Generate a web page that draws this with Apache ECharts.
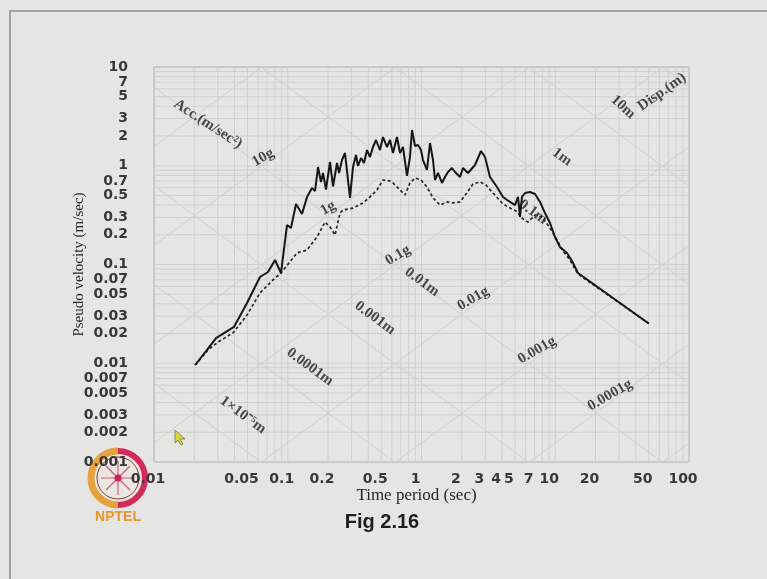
<!DOCTYPE html>
<html>
<head>
<meta charset="utf-8">
<script src="https://cdn.jsdelivr.net/npm/echarts@6/dist/echarts.min.js"></script>
<style>
  html, body { margin: 0; padding: 0; background: #e5e5e3; }
  #chart { width: 767px; height: 579px; }
</style>
</head>
<body>
<div id="chart"></div>
<script>
// Tripartite response spectrum: period (s) against pseudo velocity (m/s),
// with constant-acceleration and constant-displacement diagonals.

// Spectrum drawn with the solid line
const periodSolid = [0.0203, 0.0245, 0.0291, 0.0396, 0.0496, 0.062, 0.0712, 0.0803, 0.089, 0.0987,
  0.1057, 0.1153, 0.1278, 0.1393, 0.1518, 0.16, 0.1684, 0.1772, 0.1835, 0.1932,
  0.207, 0.218, 0.2335, 0.2417, 0.2544, 0.2679, 0.292, 0.3075, 0.3238, 0.3352,
  0.353, 0.3716, 0.3913, 0.4121, 0.4339, 0.4568, 0.4894, 0.5154, 0.5522, 0.5814,
  0.6121, 0.6558, 0.6906, 0.7271, 0.779, 0.8202, 0.8493, 0.8941, 0.9415, 0.9914,
  1.026, 1.099, 1.158, 1.219, 1.262, 1.328, 1.423, 1.498, 1.578, 1.69,
  1.78, 1.941, 2.043, 2.227, 2.512, 2.786, 2.985, 3.252, 3.668, 4.067,
  4.589, 5.003, 5.267, 5.451, 5.642, 5.941, 6.475, 7.059, 7.691, 8.384,
  9.136, 9.957, 10.85, 12.24, 13.57, 14.79, 50];
const velocitySolid = [0.0096, 0.0133, 0.018, 0.0233, 0.0407, 0.0747, 0.084, 0.111, 0.082, 0.251,
  0.234, 0.41, 0.325, 0.483, 0.595, 0.555, 0.971, 0.685, 0.845, 0.575,
  1.091, 0.617, 1.066, 0.845, 1.143, 1.346, 0.472, 0.971, 1.285, 0.994,
  1.198, 1.066, 1.443, 1.226, 1.548, 1.823, 1.443, 1.955, 1.548, 1.823,
  1.346, 1.955, 1.346, 1.548, 0.788, 1.226, 2.301, 1.585, 1.622, 1.443,
  1.143, 0.906, 1.7, 1.143, 0.717, 0.845, 0.669, 0.769, 0.864, 0.949,
  0.864, 0.769, 0.949, 0.845, 1.018, 1.411, 1.226, 0.769, 0.609, 0.483,
  0.43, 0.4, 0.483, 0.303, 0.483, 0.53, 0.542, 0.518, 0.43, 0.332,
  0.263, 0.19, 0.15, 0.131, 0.104, 0.082, 0.0253];

// Spectrum drawn with the dashed line
const periodDashed = [0.0203, 0.0253, 0.0301, 0.039, 0.0496, 0.062, 0.0776, 0.089, 0.1173, 0.1393,
  0.1655, 0.1899, 0.207, 0.2256, 0.2459, 0.2588, 0.3075, 0.3652, 0.4121, 0.4648,
  0.5154, 0.5814, 0.6121, 0.6906, 0.7527, 0.8202, 0.8941, 0.9914, 1.099, 1.219,
  1.375, 1.551, 1.72, 1.941, 2.151, 2.427, 2.738, 3.035, 3.424, 3.998,
  4.434, 5.089, 5.741, 6.256, 7.059, 7.96, 9.136, 10.3, 11.43, 12.89,
  14.05, 14.79, 50];
const velocityDashed = [0.0096, 0.0136, 0.0164, 0.0203, 0.0308, 0.0515, 0.0697, 0.082, 0.131, 0.14,
  0.19, 0.269, 0.24, 0.199, 0.332, 0.356, 0.373, 0.42, 0.483, 0.568,
  0.717, 0.701, 0.669, 0.568, 0.506, 0.669, 0.752, 0.717, 0.609, 0.472,
  0.4, 0.43, 0.42, 0.43, 0.518, 0.653, 0.685, 0.638, 0.53, 0.42,
  0.382, 0.348, 0.289, 0.269, 0.317, 0.303, 0.234, 0.177, 0.137, 0.111,
  0.09, 0.08, 0.0253];

// Axis tick labels
const periodTicks = [0.01, 0.05, 0.1, 0.2, 0.5, 1, 2, 3, 4, 5, 7, 10, 20, 50, 100];
const velocityTicks = [0.001, 0.002, 0.003, 0.005, 0.007, 0.01, 0.02, 0.03, 0.05, 0.07,
  0.1, 0.2, 0.3, 0.5, 0.7, 1, 2, 3, 5, 7, 10];

// Diagonal families
const accLinesG = [1e-5, 1e-4, 1e-3, 1e-2, 0.1, 1, 10, 100, 1000];
const dispLinesM = [1e-6, 1e-5, 1e-4, 1e-3, 1e-2, 0.1, 1, 10, 100];

// Diagonal captions: acceleration ones sit on their own line at a chosen period
const accLabelText = ['10g', '1g', '0.1g', '0.01g', '0.001g', '0.0001g'];
const accLabelG = [10, 1, 0.1, 0.01, 0.001, 0.0001];
const accLabelPeriod = [0.0653, 0.2, 0.667, 2.43, 7.3, 25.6];
const dispLabelText = ['1\u00d710\u207b\u2075m', '0.0001m', '0.001m', '0.01m', '0.1m', '1m', '10m'];
const dispLabelAt = [[0.0462, 0.00299], [0.1466, 0.00916], [0.449, 0.0287], [1.009, 0.0665],
  [6.82, 0.34], [11.23, 1.226], [32.1, 3.94]];

const lg = Math.log10;
const TWO_PI = 2 * Math.PI;
const G = 9.81;
const X0 = -2, X1 = 2, Y0 = -3, Y1 = 1;

// straight grid lines of the log-log paper
const gridSegments = [];
for (let n = -2; n <= 1; n++) {
  for (let k = 1; k <= 9; k++) {
    const x = lg(k * Math.pow(10, n));
    gridSegments.push([x, Y0, x, Y1]);
  }
}
gridSegments.push([X1, Y0, X1, Y1]);
for (let n = -3; n <= 0; n++) {
  for (let k = 1; k <= 9; k++) {
    const y = lg(k * Math.pow(10, n));
    gridSegments.push([X0, y, X1, y]);
  }
}
gridSegments.push([X0, Y1, X1, Y1]);

// constant acceleration: V = A T / 2pi ; constant displacement: V = 2pi D / T
accLinesG.forEach(a => {
  const c = lg(a * G / TWO_PI);
  const xa = Math.max(X0, Y0 - c), xb = Math.min(X1, Y1 - c);
  if (xb > xa) gridSegments.push([xa, xa + c, xb, xb + c]);
});
dispLinesM.forEach(d => {
  const c = lg(TWO_PI * d);
  const xa = Math.max(X0, c - Y1), xb = Math.min(X1, c - Y0);
  if (xb > xa) gridSegments.push([xa, c - xa, xb, c - xb]);
});

const captionFont = { fontFamily: "'Liberation Serif', 'Times New Roman', serif", fontSize: 15, fontWeight: 'bold', color: '#1e1e1e' };
const captions = [];
accLabelText.forEach((t, i) => {
  const T = accLabelPeriod[i];
  const V = accLabelG[i] * G * T / TWO_PI * 1.19;
  captions.push({ name: t, value: [lg(T), lg(V)], label: { rotate: 30 } });
});
dispLabelText.forEach((t, i) => {
  const p = dispLabelAt[i];
  captions.push({ name: t, value: [lg(p[0]), lg(p[1])], label: { rotate: t === '10m' ? -42 : -36 } });
});
captions.push({ name: 'Acc.(m/sec\u00b2)', value: [lg(0.0253), lg(2.65)], label: { rotate: -33 } });
captions.push({ name: 'Disp.(m)', value: [lg(62.8), lg(5.58)], label: { rotate: 35 } });

function tickText(ticks, v) {
  for (const t of ticks) if (Math.abs(lg(t) - v) < 1e-6) return String(t);
  return '';
}

const tickFont = { fontFamily: "'DejaVu Sans', 'Liberation Sans', sans-serif", fontSize: 14, fontWeight: 'bold', color: '#383838' };

const chart = echarts.init(document.getElementById('chart'));
chart.setOption({
  animation: false,
  backgroundColor: '#e5e5e3',
  grid: { left: 154, top: 67, width: 535, height: 395, show: true, borderColor: '#a2a2a0', borderWidth: 1, backgroundColor: 'transparent' },
  xAxis: {
    type: 'value', min: X0, max: X1,
    name: 'Time period (sec)', nameLocation: 'middle', nameGap: 25, nameMoveOverlap: false,
    nameTextStyle: { fontFamily: "'Liberation Serif', 'Times New Roman', serif", fontSize: 17, color: '#262626', padding: [0, 10, 0, 0] },
    axisLine: { show: false }, axisTick: { show: false }, splitLine: { show: false },
    axisLabel: Object.assign({ customValues: periodTicks.map(lg), margin: 10, padding: [0, 12, 0, 0],
      formatter: v => tickText(periodTicks, v) }, tickFont)
  },
  yAxis: {
    type: 'value', min: Y0, max: Y1,
    name: 'Pseudo velocity (m/sec)', nameLocation: 'middle', nameGap: 67, nameRotate: 90, nameMoveOverlap: false,
    nameTextStyle: { fontFamily: "'Liberation Serif', 'Times New Roman', serif", fontSize: 15, color: '#262626' },
    axisLine: { show: false }, axisTick: { show: false }, splitLine: { show: false },
    axisLabel: Object.assign({ customValues: velocityTicks.map(lg), margin: 26,
      formatter: v => tickText(velocityTicks, v) }, tickFont)
  },
  series: [
    {
      type: 'custom', name: 'paper', silent: true, z: 1,
      data: gridSegments,
      renderItem: (params, api) => {
        const p = api.coord([api.value(0), api.value(1)]);
        const q = api.coord([api.value(2), api.value(3)]);
        return { type: 'line', shape: { x1: p[0], y1: p[1], x2: q[0], y2: q[1] },
          style: { stroke: '#d0d0ce', lineWidth: 1 } };
      }
    },
    {
      type: 'scatter', name: 'captions', silent: true, z: 2,
      symbolSize: 0, data: captions,
      label: Object.assign({ show: true, position: 'inside', formatter: p => p.name }, captionFont)
    },
    {
      type: 'line', name: 'dashed', z: 3, symbol: 'none',
      data: periodDashed.map((t, i) => [lg(t), lg(velocityDashed[i])]),
      lineStyle: { color: '#262626', width: 1.7, type: [3, 2.5] }
    },
    {
      type: 'line', name: 'solid', z: 4, symbol: 'none',
      data: periodSolid.map((t, i) => [lg(t), lg(velocitySolid[i])]),
      lineStyle: { color: '#161616', width: 2 }
    }
  ],
  graphic: [
    { type: 'polyline', shape: { points: [[10, 579], [10, 11], [767, 11]] }, style: { stroke: '#8c8c8c', lineWidth: 1.5, fill: null }, z: 10 },
    { type: 'text', x: 382, y: 522, style: { text: 'Fig 2.16', font: "bold 20px 'Liberation Sans', Arial, sans-serif", fill: '#1e1e1e', align: 'center', verticalAlign: 'middle' }, z: 10 },
    {
      type: 'group', x: 118, y: 478, z: 20,
      children: [
        { type: 'circle', shape: { cx: 0, cy: 0, r: 26 }, style: { fill: '#ece6e2', stroke: null } },
        { type: 'arc', shape: { cx: 0, cy: 0, r: 27, startAngle: Math.PI / 2, endAngle: Math.PI * 1.5 }, style: { stroke: '#e6a23c', lineWidth: 7, fill: null } },
        { type: 'arc', shape: { cx: 0, cy: 0, r: 27, startAngle: -Math.PI / 2, endAngle: Math.PI / 2 }, style: { stroke: '#d42a5a', lineWidth: 6, fill: null } },
        { type: 'circle', shape: { cx: 0, cy: 0, r: 21 }, style: { fill: null, stroke: '#8a3a2a', lineWidth: 1 } },
        { type: 'line', shape: { x1: -17, y1: 0, x2: 17, y2: 0 }, style: { stroke: '#d0607a', lineWidth: 1.2 } },
        { type: 'line', shape: { x1: 0, y1: -17, x2: 0, y2: 17 }, style: { stroke: '#d0607a', lineWidth: 1.2 } },
        { type: 'line', shape: { x1: -12, y1: -12, x2: 12, y2: 12 }, style: { stroke: '#d0607a', lineWidth: 1.2 } },
        { type: 'line', shape: { x1: -12, y1: 12, x2: 12, y2: -12 }, style: { stroke: '#d0607a', lineWidth: 1.2 } },
        { type: 'circle', shape: { cx: 0, cy: 0, r: 3.5 }, style: { fill: '#d4205a' } }
      ]
    },
    { type: 'text', x: 118, y: 517, z: 20, style: { text: 'NPTEL', font: "bold 14px 'Liberation Sans', Arial, sans-serif", fill: '#e8982e', align: 'center', verticalAlign: 'middle' } },
    { type: 'polygon', x: 175, y: 430, z: 20, shape: { points: [[0, 0], [0, 13], [3, 10], [6, 15], [8, 14], [5, 9], [10, 9]] }, style: { fill: '#d6d64a', stroke: '#7a7a30', lineWidth: 0.8 } }
  ]
});
</script>
</body>
</html>
